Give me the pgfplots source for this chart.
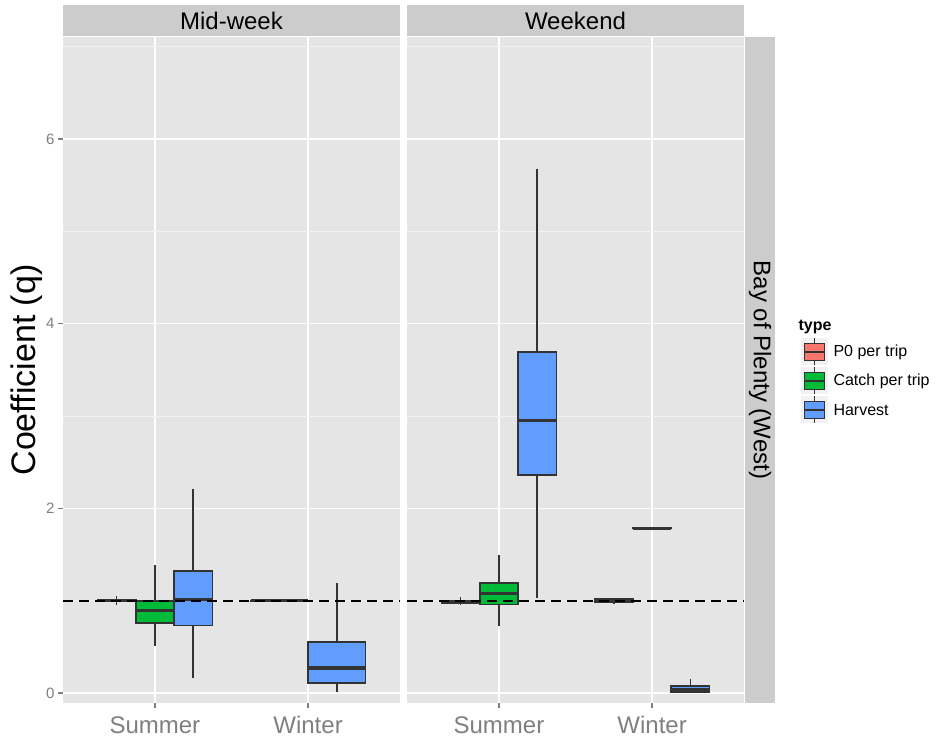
\documentclass[border=0pt]{standalone}
\usepackage{fontspec}
\setmainfont{Liberation Sans}
\usepackage{pgfplots}
\pgfplotsset{compat=1.18}
\usepgfplotslibrary{statistics}
\definecolor{panelbg}{HTML}{E5E5E5}
\definecolor{stripbg}{HTML}{CCCCCC}
\definecolor{grey95}{HTML}{F2F2F2}
\definecolor{grey50}{HTML}{7F7F7F}
\definecolor{grey20}{HTML}{333333}
\definecolor{pzero}{HTML}{F8766D}
\definecolor{catchc}{HTML}{00BA38}
\definecolor{harv}{HTML}{619CFF}
\pgfplotsset{
  panel/.style={
    scale only axis, width=337pt, height=666pt, anchor=south west,
    xmin=0.4, xmax=2.6, ymin=-0.108, ymax=7.105,
    axis background/.style={fill=panelbg},
    axis line style={draw=none},
    xtick={1,2}, xticklabels={Summer,Winter},
    ytick={0,2,4,6}, minor ytick={1,3,5,7},
    tick pos=left,
    grid=both,
    major grid style={white, line width=1.6pt},
    minor grid style={grey95, line width=0.8pt},
    tick align=outside, major tick length=5pt, minor tick length=0pt,
    tick style={grey50, line width=1.2pt},
    xticklabel style={font=\fontsize{24}{28}\selectfont, text=grey50, yshift=-5pt},
    yticklabel style={font=\fontsize{15}{18}\selectfont, text=grey50},
    /pgf/number format/assume math mode=true,
  },
  bx/.style={draw=grey20, line width=1.7pt, solid,
    boxplot/draw direction=y,
    boxplot/whisker extend=0,
    boxplot/every median/.style={line width=3.2pt}},
  hl/.style={black, line width=2pt, dash pattern=on 10pt off 6pt},
}
\begin{document}
\begin{tikzpicture}[x=1pt,y=1pt]
\useasboundingbox (0,0) rectangle (938,741);
% ---------------- left panel: Mid-week
\begin{axis}[panel, at={(63pt,38pt)},
  ylabel={Coefficient (q)},
  ylabel style={at={(axis description cs:-0.107,0.5)}, anchor=center, rotate=0,
    font=\fontsize{34}{40}\selectfont, text=black}]
% Summer
\addplot[bx, fill=pzero, boxplot prepared={draw direction=y, draw position=0.75, box extend=0.25, whisker extend=0,
  lower whisker=0.95, lower quartile=0.99, median=1.0, upper quartile=1.01, upper whisker=1.05}] coordinates {};
\addplot[bx, fill=catchc, boxplot prepared={draw direction=y, draw position=1.0, box extend=0.25, whisker extend=0,
  lower whisker=0.51, lower quartile=0.76, median=0.89, upper quartile=0.997, upper whisker=1.39}] coordinates {};
\addplot[bx, fill=harv, boxplot prepared={draw direction=y, draw position=1.25, box extend=0.25, whisker extend=0,
  lower whisker=0.16, lower quartile=0.73, median=1.01, upper quartile=1.32, upper whisker=2.21}] coordinates {};
% Winter
\addplot[bx, fill=pzero, boxplot prepared={draw direction=y, draw position=1.8125, box extend=0.375, whisker extend=0,
  lower whisker=0.995, lower quartile=0.998, median=1.0, upper quartile=1.002, upper whisker=1.005}] coordinates {};
\addplot[bx, fill=harv, boxplot prepared={draw direction=y, draw position=2.1875, box extend=0.375, whisker extend=0,
  lower whisker=0.01, lower quartile=0.108, median=0.27, upper quartile=0.55, upper whisker=1.19}] coordinates {};
\addplot[hl] coordinates {(0.4,1) (2.6,1)};
\end{axis}
% ---------------- right panel: Weekend
\begin{axis}[panel, at={(407pt,38pt)}, yticklabels={}, ytick style={draw=none}]
% Summer
\addplot[bx, fill=pzero, boxplot prepared={draw direction=y, draw position=0.75, box extend=0.25, whisker extend=0,
  lower whisker=0.95, lower quartile=0.975, median=0.99, upper quartile=1.0, upper whisker=1.04}] coordinates {};
\addplot[bx, fill=catchc, boxplot prepared={draw direction=y, draw position=1.0, box extend=0.25, whisker extend=0,
  lower whisker=0.73, lower quartile=0.96, median=1.08, upper quartile=1.19, upper whisker=1.50}] coordinates {};
\addplot[bx, fill=harv, boxplot prepared={draw direction=y, draw position=1.25, box extend=0.25, whisker extend=0,
  lower whisker=1.03, lower quartile=2.36, median=2.95, upper quartile=3.69, upper whisker=5.68}] coordinates {};
% Winter
\addplot[bx, fill=pzero, boxplot prepared={draw direction=y, draw position=1.75, box extend=0.25, whisker extend=0,
  lower whisker=0.975, lower quartile=0.98, median=1.0, upper quartile=1.02, upper whisker=1.025}] coordinates {};
\addplot[bx, fill=catchc, boxplot prepared={draw direction=y, draw position=2.0, box extend=0.25, whisker extend=0,
  lower whisker=1.78, lower quartile=1.782, median=1.785, upper quartile=1.788, upper whisker=1.79}] coordinates {};
\addplot[bx, fill=harv, boxplot prepared={draw direction=y, draw position=2.25, box extend=0.25, whisker extend=0,
  lower whisker=0.0, lower quartile=0.01, median=0.04, upper quartile=0.075, upper whisker=0.15}] coordinates {};
\addplot[hl] coordinates {(0.4,1) (2.6,1)};
\end{axis}
% ---------------- strips
\fill[stripbg] (63,705) rectangle (400,736);
\node[font=\fontsize{24}{28}\selectfont] at (231.5,720.5) {Mid-week};
\fill[stripbg] (407,705) rectangle (744,736);
\node[font=\fontsize{24}{28}\selectfont] at (575.5,720.5) {Weekend};
\fill[stripbg] (745,38) rectangle (775,704);
\node[font=\fontsize{24}{28}\selectfont, rotate=-90] at (760,371) {Bay of Plenty (West)};
% ---------------- legend
\node[anchor=west, font=\bfseries\fontsize{16}{19}\selectfont] at (795,414) {type};
\foreach \c/\yc/\lab in {pzero/389/P0 per trip, catchc/360/Catch per trip, harv/331/Harvest}{
  \fill[grey95] (801,\yc-13.5) rectangle (828,\yc+13.5);
  \draw[grey20, line width=1.5pt] (814.5,\yc+8.5) -- (814.5,\yc+13.5);
  \draw[grey20, line width=1.5pt] (814.5,\yc-8.5) -- (814.5,\yc-13.5);
  \filldraw[fill=\c, draw=grey20, line width=1.5pt] (804.5,\yc-8.5) rectangle (824.5,\yc+8.5);
  \draw[grey20, line width=2.6pt] (804.5,\yc) -- (824.5,\yc);
  \node[anchor=west, font=\fontsize{16}{19}\selectfont] at (830,\yc) {\lab};
}
\end{tikzpicture}
\end{document}
